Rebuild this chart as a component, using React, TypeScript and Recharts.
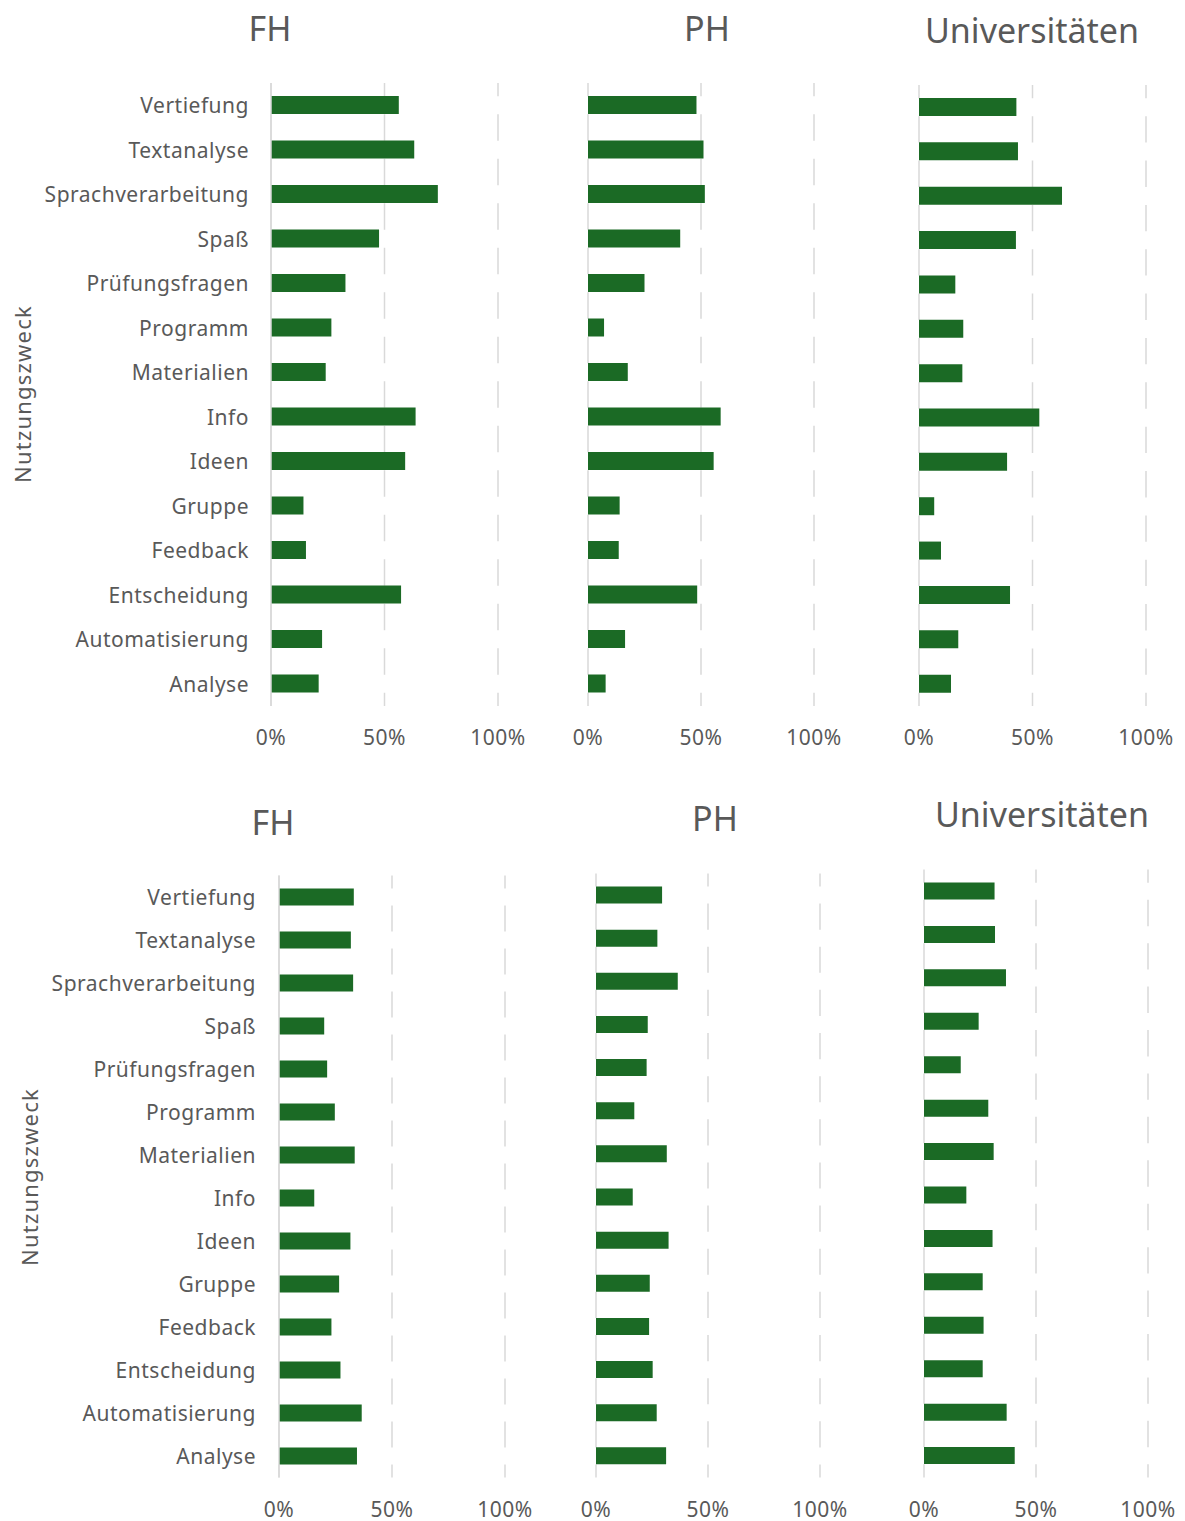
import React from 'react';
import { BarChart, Bar, XAxis, YAxis, CartesianGrid } from 'recharts';

const categories = [
    'Vertiefung', 'Textanalyse', 'Sprachverarbeitung', 'Spaß', 'Prüfungsfragen', 'Programm', 'Materialien',
    'Info', 'Ideen', 'Gruppe', 'Feedback', 'Entscheidung', 'Automatisierung', 'Analyse'
];

// upper row (values in %)
const fhTop = [56.3, 63.1, 73.5, 47.6, 32.8, 26.6, 24.1, 63.7, 59.1, 14.3, 15.4, 57.3, 22.5, 21.0];
const phTop = [48.0, 51.1, 51.7, 40.8, 25.0, 7.1, 17.6, 58.7, 55.6, 14.0, 13.6, 48.3, 16.4, 7.8];
const uniTop = [42.9, 43.6, 63.0, 42.7, 16.0, 19.5, 19.1, 53.0, 38.8, 6.7, 9.7, 40.1, 17.3, 14.1];

// lower row (values in %)
const fhBottom = [33.1, 31.8, 32.8, 20.0, 21.3, 24.7, 33.5, 15.6, 31.6, 26.6, 23.2, 27.2, 36.6, 34.5];
const phBottom = [29.5, 27.4, 36.5, 23.1, 22.6, 17.1, 31.6, 16.4, 32.4, 24.0, 23.7, 25.3, 27.1, 31.3];
const uniBottom = [31.5, 31.7, 36.6, 24.4, 16.4, 28.7, 31.1, 18.9, 30.6, 26.2, 26.6, 26.2, 36.9, 40.5];

const xTicks = [0, 50, 100];

const GREEN = '#1b6a25';
const GRID = '#d9d9d9';
const TEXT = '#595959';
const FONT = '"Noto Sans", sans-serif';
const X_AXIS_H = 30;

interface PanelProps {
    values: number[];
    title: string;
    titleX: number;
    titleY: number;
    plotLeft: number;
    plotRight: number;
    plotTop: number;
    plotBottom: number;
    chartTop: number;
    chartHeight: number;
    showLabels?: boolean;
    labelGap?: number;
    barSize: number;
}

const Panel: React.FC<PanelProps> = ({
    values, title, titleX, titleY, plotLeft, plotRight, plotTop, plotBottom,
    chartTop, chartHeight, showLabels = false, labelGap = 22, barSize
}) => {
    const data = categories.map((name, i) => ({ name, value: values[i] }));
    const chartLeft = showLabels ? 0 : plotLeft - 40;
    const yWidth = showLabels ? plotLeft : 0;
    const chartWidth = plotRight + 40 - chartLeft;
    const band = (plotBottom - plotTop) / categories.length;
    const dash = band - barSize;

    const XTick = (props: any) => (
        <text x={props.x} y={plotBottom - chartTop + 31} textAnchor="middle" dominantBaseline="central"
            fill={TEXT} fontSize={21} fontFamily={FONT} letterSpacing={0.5}>
            {`${props.payload.value}%`}
        </text>
    );

    const YTick = (props: any) => (
        <text x={plotLeft - labelGap - chartLeft} y={props.y} textAnchor="end" dominantBaseline="central"
            fill={TEXT} fontSize={21} fontFamily={FONT} letterSpacing={0.5}>
            {props.payload.value}
        </text>
    );

    return (
        <>
            <div style={{
                position: 'absolute', left: titleX - 200, top: titleY - 25, width: 400, height: 50,
                lineHeight: '50px', textAlign: 'center', fontFamily: FONT, fontSize: 34, color: TEXT
            }}>
                {title}
            </div>
            <div style={{ position: 'absolute', left: chartLeft, top: chartTop }}>
                <BarChart
                    width={chartWidth}
                    height={chartHeight}
                    data={data}
                    layout="vertical"
                    margin={{
                        top: plotTop - chartTop,
                        bottom: chartTop + chartHeight - plotBottom - X_AXIS_H,
                        left: plotLeft - chartLeft - yWidth,
                        right: chartLeft + chartWidth - plotRight
                    }}
                >
                    <CartesianGrid
                        horizontal={false}
                        stroke={GRID}
                        strokeWidth={1.5}
                        strokeDasharray={`${dash} ${barSize}`}
                        strokeDashoffset={dash / 2}
                    />
                    <XAxis
                        type="number"
                        domain={[0, 100]}
                        ticks={xTicks}
                        height={X_AXIS_H}
                        axisLine={false}
                        tickLine={false}
                        tick={<XTick />}
                        interval={0}
                    />
                    <YAxis
                        type="category"
                        dataKey="name"
                        width={yWidth}
                        axisLine={{ stroke: GRID, strokeWidth: 1.5 }}
                        tickLine={false}
                        tick={showLabels ? <YTick /> : false}
                        interval={0}
                    />
                    <Bar dataKey="value" fill={GREEN} barSize={barSize} isAnimationActive={false} />
                </BarChart>
            </div>
        </>
    );
};

const YTitle = ({ x, y }: { x: number; y: number }) => (
    <div style={{
        position: 'absolute', left: x - 150, top: y - 15, width: 300, height: 30, lineHeight: '30px',
        textAlign: 'center', transform: 'rotate(-90deg)', fontFamily: FONT, fontSize: 22,
        letterSpacing: 1.2, color: TEXT
    }}>
        Nutzungszweck
    </div>
);

const App: React.FC = () => {
    return (
        <div style={{ position: 'absolute', left: 0, top: 0, width: 1185, height: 1521, background: 'white' }}>
            <Panel values={fhTop} title="FH" titleX={270} titleY={28} plotLeft={271} plotRight={498}
                plotTop={83} plotBottom={706} chartTop={0} chartHeight={770} showLabels labelGap={22} barSize={18} />
            <Panel values={phTop} title="PH" titleX={707} titleY={28} plotLeft={588} plotRight={814}
                plotTop={83} plotBottom={706} chartTop={0} chartHeight={770} barSize={18} />
            <Panel values={uniTop} title="Universitäten" titleX={1032} titleY={30} plotLeft={919} plotRight={1146}
                plotTop={85} plotBottom={706} chartTop={0} chartHeight={770} barSize={18} />
            <YTitle x={22} y={394} />

            <Panel values={fhBottom} title="FH" titleX={273} titleY={822} plotLeft={279} plotRight={505}
                plotTop={875.5} plotBottom={1477.5} chartTop={780} chartHeight={741} showLabels labelGap={23} barSize={17} />
            <Panel values={phBottom} title="PH" titleX={715} titleY={818} plotLeft={596} plotRight={820}
                plotTop={873.5} plotBottom={1477.5} chartTop={780} chartHeight={741} barSize={17} />
            <Panel values={uniBottom} title="Universitäten" titleX={1042} titleY={814} plotLeft={924} plotRight={1148}
                plotTop={869.5} plotBottom={1477.5} chartTop={780} chartHeight={741} barSize={17} />
            <YTitle x={29} y={1177} />
        </div>
    );
};

export default App;
